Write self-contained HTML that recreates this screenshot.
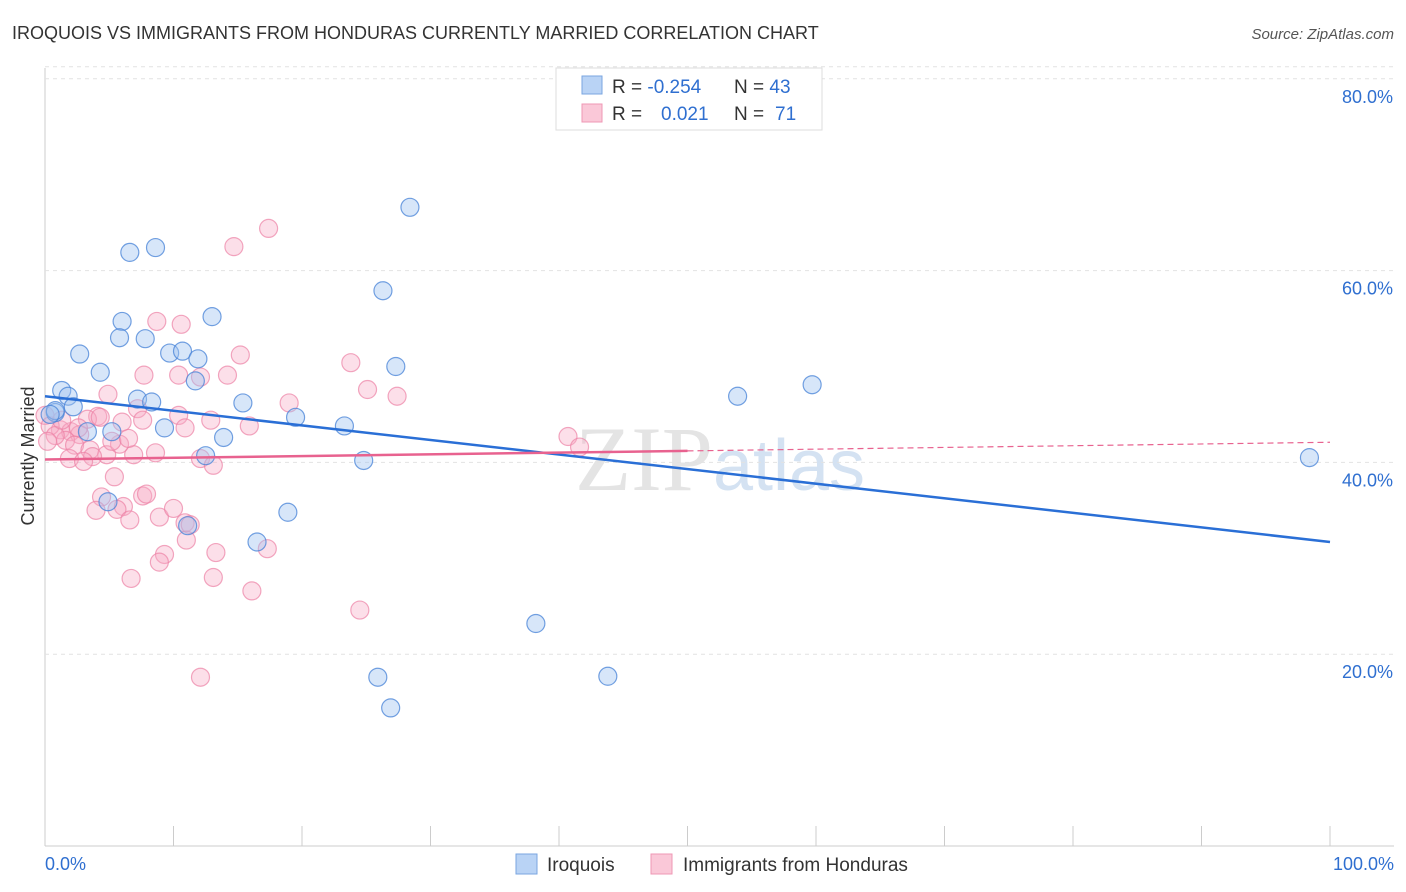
<!DOCTYPE html>
<html><head><meta charset="utf-8"><style>
body{margin:0;background:#fff;font-family:"Liberation Sans",sans-serif}
svg{display:block}
</style></head><body>
<svg width="1406" height="892" id="c">
<text x="12" y="39" font-size="18" fill="#333">IROQUOIS VS IMMIGRANTS FROM HONDURAS CURRENTLY MARRIED CORRELATION CHART</text>
<text x="1394" y="39" font-size="15" fill="#555" text-anchor="end" font-style="italic">Source: ZipAtlas.com</text>
<text x="720" y="490" font-size="92" fill="#e4e4e4" text-anchor="middle" font-family="Liberation Serif">ZIP<tspan fill="#d4e2f2" font-family="Liberation Sans" font-size="72">atlas</tspan></text>
<text x="34" y="456" font-size="18" fill="#333" text-anchor="middle" transform="rotate(-90 34 456)">Currently Married</text>
<g id="grid"></g><g id="pts"></g><g id="lines"></g>
<g>
<rect x="556" y="68" width="266" height="62" fill="#fff" stroke="#ddd"/>
<rect x="582" y="76" width="20" height="18" fill="#b9d3f5" stroke="#7aa6e0"/>
<rect x="582" y="104" width="20" height="18" fill="#fac8d8" stroke="#ef97b4"/>
<text x="612" y="93" font-size="19" fill="#333">R = <tspan fill="#2f6fd0">-0.254</tspan></text>
<text x="734" y="93" font-size="19" fill="#333">N = <tspan fill="#2f6fd0">43</tspan></text>
<text x="612" y="120" font-size="19" fill="#333">R = <tspan fill="#2f6fd0" x="661">0.021</tspan></text>
<text x="734" y="120" font-size="19" fill="#333">N = <tspan fill="#2f6fd0" x="775">71</tspan></text>
</g>
<g>
<rect x="516" y="854" width="21" height="20" fill="#b9d3f5" stroke="#7aa6e0"/>
<text x="547" y="871" font-size="19" fill="#333">Iroquois</text>
<rect x="651" y="854" width="21" height="20" fill="#fac8d8" stroke="#ef97b4"/>
<text x="683" y="871" font-size="19" fill="#333">Immigrants from Honduras</text>
</g>
<text x="45" y="870" font-size="18" fill="#2f6fd0">0.0%</text>
<text x="1394" y="870" font-size="18" fill="#2f6fd0" text-anchor="end">100.0%</text>
</svg>
<script>
const yTicks=[20,40,60,80];
const xTickVals=[0,10,20,30,40,50,60,70,80,90,100];
const blueX=[28.4,6.6,8.6,26.3,13.0,6.0,5.8,7.8,2.7,9.7,10.7,11.9,27.3,4.3,11.7,1.3,1.8,53.9,59.7,7.2,8.3,15.4,2.2,0.8,19.5,23.3,9.3,5.2,3.3,13.9,12.5,24.8,98.4,4.9,18.9,11.1,16.5,38.2,43.8,25.9,26.9,0.8,0.4];
const blueY=[66.6,61.9,62.4,57.9,55.2,54.7,53.0,52.9,51.3,51.4,51.6,50.8,50.0,49.4,48.5,47.5,46.9,46.9,48.1,46.6,46.3,46.2,45.8,45.2,44.7,43.8,43.6,43.2,43.2,42.6,40.7,40.2,40.5,35.9,34.8,33.4,31.7,23.2,17.7,17.6,14.4,45.4,45.0];
const pinkX=[8.7,10.6,15.2,7.7,4.9,12.1,10.4,14.2,23.8,25.1,27.4,19.0,7.2,7.6,10.4,4.1,3.3,6.0,10.9,15.9,12.9,1.2,2.0,2.7,1.6,2.3,3.5,4.8,3.7,1.9,6.9,8.6,12.1,13.1,5.8,3.0,40.7,41.6,5.4,4.4,7.6,6.1,3.97,5.6,8.9,10.9,11.3,10.0,7.9,6.6,17.3,13.3,9.3,8.9,11.0,6.7,13.1,16.1,24.5,12.1,14.7,17.4,0.0,0.4,0.8,0.2,1.3,2.6,5.2,6.5,4.3];
const pinkY=[54.7,54.4,51.2,49.1,47.1,48.9,49.1,49.1,50.4,47.6,46.9,46.2,45.6,44.4,44.9,44.8,44.5,44.2,43.6,43.8,44.4,43.4,43.2,42.9,42.3,41.8,41.3,40.8,40.6,40.4,40.8,41.0,40.4,39.7,41.9,40.1,42.7,41.6,38.5,36.4,36.5,35.4,35.0,35.1,34.3,33.7,33.5,35.2,36.7,34.0,31.0,30.6,30.4,29.6,31.9,27.9,28.0,26.6,24.6,17.6,62.5,64.4,44.9,43.8,42.8,42.2,44.4,43.6,42.2,42.5,44.7];
const blueFit=[46.9,31.7]; const pinkFit=[40.3,42.1];
const X=v=>45+v*12.85, Y=v=>846-v*9.59;
const NS='http://www.w3.org/2000/svg';
function mk(t,a,p){const e=document.createElementNS(NS,t);for(const k in a)e.setAttribute(k,a[k]);p.appendChild(e);return e;}
const g=document.getElementById('grid');
mk('line',{x1:45,y1:68,x2:45,y2:846,stroke:'#ccc'},g);
mk('line',{x1:45,y1:846,x2:1394,y2:846,stroke:'#ccc'},g);
for(const t of yTicks){
 const l=mk('line',{x1:45,y1:Y(t),x2:1394,y2:Y(t),stroke:'#e2e2e2','stroke-dasharray':'4,4'},g);
 
 
 const tx=mk('text',{x:1393,y:Y(t)+24,'font-size':18,fill:'#2f6fd0','text-anchor':'end'},g);tx.textContent=t.toFixed(1)+'%';
 
 
}
mk('line',{x1:45,y1:Y(80)-12,x2:1394,y2:Y(80)-12,stroke:'#e2e2e2','stroke-dasharray':'4,4'},g);
for(const t of xTickVals){
 const l=mk('line',{x1:X(t),y1:826,x2:X(t),y2:846,stroke:'#ccc'},g);
 
 
}
const p=document.getElementById('pts');
pinkX.forEach((x,i)=>{const c=mk('circle',{cx:X(x),cy:Y(pinkY[i]),r:9,fill:'rgba(246,170,196,0.38)',stroke:'rgba(236,130,165,0.7)','stroke-width':1.2},p);
 
 });
blueX.forEach((x,i)=>{const c=mk('circle',{cx:X(x),cy:Y(blueY[i]),r:9,fill:'rgba(160,195,240,0.42)',stroke:'rgba(70,130,215,0.75)','stroke-width':1.2},p);
 
 });
const L=document.getElementById('lines');
const b=mk('line',{x1:X(0),y1:Y(blueFit[0]),x2:X(100),y2:Y(blueFit[1]),stroke:'#2a6fd6','stroke-width':2.5},L);


const pm=pinkFit[0]+(pinkFit[1]-pinkFit[0])*0.5;
const ps=mk('line',{x1:X(0),y1:Y(pinkFit[0]),x2:X(50),y2:Y(pm),stroke:'#e8628f','stroke-width':2.5},L);


const pd=mk('line',{x1:X(50),y1:Y(pm),x2:X(100),y2:Y(pinkFit[1]),stroke:'#e8628f','stroke-width':1.2,'stroke-dasharray':'6,4'},L);


</script>
</body></html>
